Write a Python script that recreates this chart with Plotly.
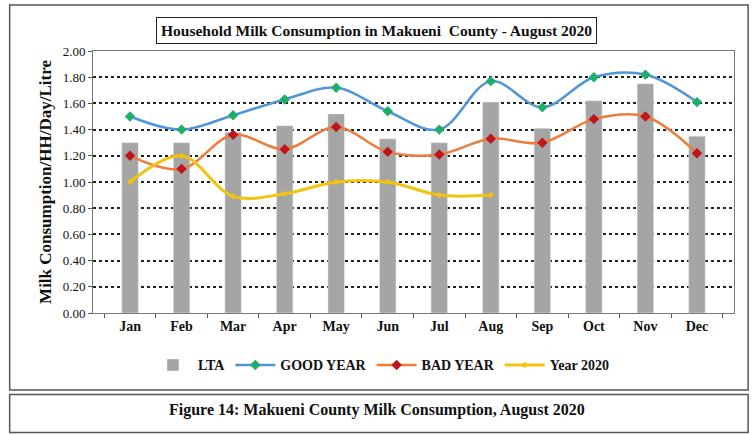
import plotly.graph_objects as go

months = ["Jan", "Feb", "Mar", "Apr", "May", "Jun", "Jul", "Aug", "Sep", "Oct", "Nov", "Dec"]
lta = [1.30, 1.30, 1.38, 1.43, 1.52, 1.33, 1.30, 1.61, 1.41, 1.62, 1.75, 1.35]
good_year = [1.50, 1.40, 1.51, 1.63, 1.72, 1.54, 1.40, 1.77, 1.57, 1.80, 1.82, 1.61]
bad_year = [1.20, 1.10, 1.36, 1.25, 1.42, 1.23, 1.21, 1.33, 1.30, 1.48, 1.50, 1.22]
year_2020 = [1.00, 1.20, 0.89, 0.91, 1.00, 1.00, 0.90, 0.90]
y_ticks = [0.0, 0.2, 0.4, 0.6, 0.8, 1.0, 1.2, 1.4, 1.6, 1.8, 2.0]

SERIF = "Liberation Serif, Times New Roman, serif"

fig = go.Figure()
fig.add_trace(go.Bar(x=months, y=lta, name="<b>LTA</b>", marker_color="#A5A5A5",
                     width=0.32))
fig.add_trace(go.Scatter(x=months, y=good_year, name="<b>GOOD YEAR</b>", mode="lines+markers",
                         line=dict(color="#4E95D9", width=2.5, shape="spline", smoothing=1.0),
                         marker=dict(symbol="diamond", size=8, color="#1FAE6A")))
fig.add_trace(go.Scatter(x=months, y=bad_year, name="<b>BAD YEAR</b>", mode="lines+markers",
                         line=dict(color="#EE7C3A", width=2.5, shape="spline", smoothing=1.0),
                         marker=dict(symbol="diamond", size=8, color="#C0141C")))
fig.add_trace(go.Scatter(x=months[:len(year_2020)], y=year_2020, name="<b>Year 2020</b>",
                         mode="lines+markers",
                         line=dict(color="#F2C40F", width=3, shape="spline", smoothing=1.0),
                         marker=dict(symbol="diamond", size=5, color="#F2C40F")))

# outer frame of the chart and the caption box below it
fig.add_shape(type="rect", xref="paper", yref="paper", x0=-0.13, x1=1.022,
              y0=-0.294, y1=1.176, line=dict(color="#555", width=1.5), layer="below")
fig.add_shape(type="rect", xref="paper", yref="paper", x0=-0.13, x1=1.022,
              y0=-0.456, y1=-0.311, line=dict(color="#555", width=1.5), layer="below")

fig.add_annotation(text="<b>Household Milk Consumption in Makueni  County - August 2020</b>",
                   xref="paper", yref="paper", x=0.443, y=1.08, xanchor="center",
                   yanchor="middle", showarrow=False,
                   font=dict(family=SERIF, size=15.5, color="#111"),
                   bordercolor="#222", borderwidth=1, borderpad=4, bgcolor="white")
fig.add_annotation(text="<b>Figure 14: Makueni County Milk Consumption, August 2020</b>",
                   xref="paper", yref="paper", x=0.443, y=-0.37, xanchor="center",
                   yanchor="middle", showarrow=False,
                   font=dict(family=SERIF, size=16, color="#111"))

fig.update_layout(
    width=756, height=435,
    margin=dict(l=93, r=22, t=51, b=122),
    paper_bgcolor="white", plot_bgcolor="white",
    font=dict(family=SERIF, color="#111"),
    showlegend=True,
    legend=dict(orientation="h", x=0.45, xanchor="center", y=-0.2, yanchor="middle",
                font=dict(family=SERIF, size=14, color="#111"), traceorder="normal",
                itemwidth=40),
    xaxis=dict(type="category", showgrid=False, showline=True, linecolor="#777",
               mirror=True, ticks="outside", ticklen=4, tickcolor="#555",
               tickson="boundaries",
               tickfont=dict(family=SERIF, size=14, color="#111"),
               tickprefix="<b>", ticksuffix="</b>"),
    yaxis=dict(range=[0, 2.0], tickvals=y_ticks, tickformat=".2f",
               showgrid=True, gridcolor="#222", griddash="dot", gridwidth=1.5,
               showline=True, linecolor="#777", mirror=True,
               ticks="outside", ticklen=4, tickcolor="#555",
               tickfont=dict(family=SERIF, size=13, color="#111"),
               tickprefix="<b>", ticksuffix="</b>",
               title=dict(text="<b>Milk Consumption/HH/Day/Litre</b>",
                          font=dict(family=SERIF, size=17, color="#111"), standoff=6)),
    bargap=0.7,
)

fig.write_html("out.html")
